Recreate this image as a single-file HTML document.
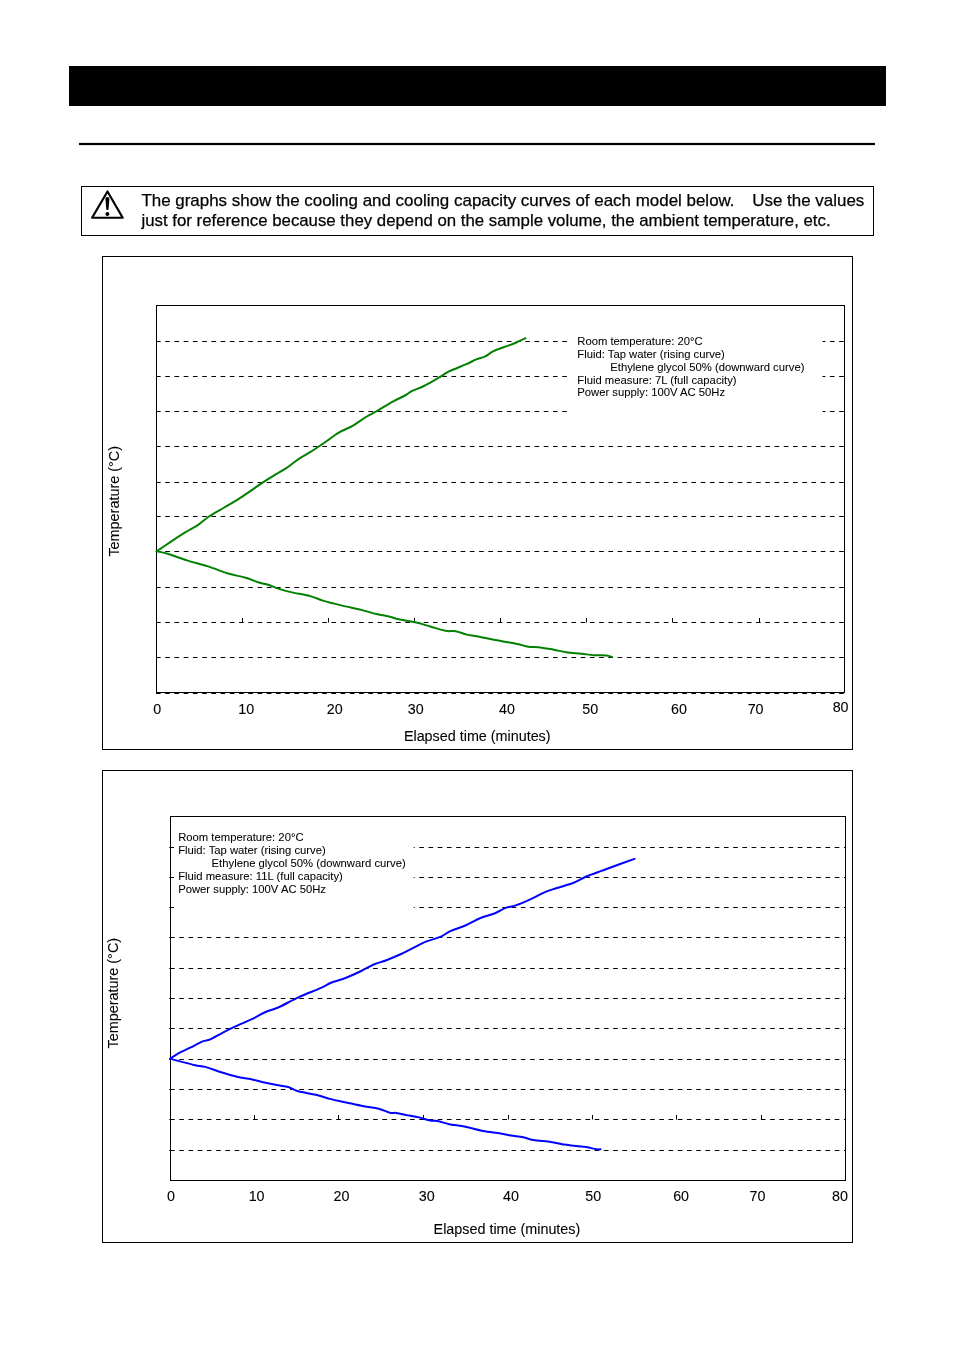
<!DOCTYPE html>
<html lang="en"><head><meta charset="utf-8"><title>Cooling curves</title>
<style>
html,body{margin:0;padding:0;background:#fff;}
body{width:954px;height:1351px;position:relative;overflow:hidden;font-family:"Liberation Sans",sans-serif;color:#000;}
svg{position:absolute;left:0;top:0;display:block;will-change:transform;opacity:.999}
text{font-family:"Liberation Sans",sans-serif;fill:#000;stroke:#000;stroke-width:.1px;}
.n,.n2{stroke-width:.25px}
.l{stroke-width:.06px}
.n{font-size:16.95px}
.n2{font-size:16.81px}
.a{font-size:14.3px}
.t{font-size:14.35px}
.y{font-size:14.41px}
.l{font-size:11.28px}
.g{stroke:#000;stroke-width:1;fill:none;stroke-dasharray:4.65 4.582;}
.b{stroke:#000;stroke-width:1;fill:none}
</style></head><body>
<svg width="954" height="1351" viewBox="0 0 954 1351">

<rect x="69" y="66" width="817" height="40" fill="#000"/>
<rect x="79" y="142.9" width="796" height="2.2" fill="#000"/>
<rect class="b" x="81.5" y="186.5" width="792" height="49"/>
<path d="M107.5 191.5 L122.7 217.75 L92.1 217.75 Z" fill="none" stroke="#000" stroke-width="2.2" stroke-linejoin="round"/>
<path d="M105.4 198.8 Q105.4 196.9 107.4 196.9 Q109.4 196.9 109.4 198.8 L108.5 209.6 Q107.4 210.6 106.3 209.6 Z" fill="#000"/>
<circle cx="107.4" cy="214.1" r="2" fill="#000"/>
<text class="n" x="141.4" y="206">The graphs show the cooling and cooling capacity curves of each model below.</text>
<text class="n" x="752.3" y="206">Use the values</text>
<text class="n2" x="141.5" y="226">just for reference because they depend on the sample volume, the ambient temperature, etc.</text>
<rect class="b" x="102.5" y="256.5" width="750" height="493"/>
<path class="g" d="M156.0 341.5H844.5"/>
<path class="g" d="M156.0 376.5H844.5"/>
<path class="g" d="M156.0 411.5H844.5"/>
<path class="g" d="M156.0 446.5H844.5"/>
<path class="g" d="M156.0 482.5H844.5"/>
<path class="g" d="M156.0 516.5H844.5"/>
<path class="g" d="M156.0 551.5H844.5"/>
<path class="g" d="M156.0 587.5H844.5"/>
<path class="g" d="M156.0 622.5H844.5"/>
<path class="g" d="M156.0 657.5H844.5"/>
<path class="b" d="M242.5 618.0V622.5"/>
<path class="b" d="M328.5 618.0V622.5"/>
<path class="b" d="M414.5 618.0V622.5"/>
<path class="b" d="M500.5 618.0V622.5"/>
<path class="b" d="M586.5 618.0V622.5"/>
<path class="b" d="M672.5 618.0V622.5"/>
<path class="b" d="M759.5 618.0V622.5"/>
<rect x="570" y="330" width="252.5" height="95" fill="#fff"/>
<rect class="b" x="156.5" y="305.5" width="688.0" height="387.0"/>
<path d="M156.6 551.3C159.0 549.7 166.2 544.8 171.0 541.6C175.8 538.4 181.1 535.0 185.6 532.2C190.1 529.4 194.2 527.5 198.2 524.8C202.2 522.1 205.5 518.8 209.7 516.0C213.9 513.2 219.0 510.6 223.4 508.0C227.8 505.4 231.8 503.3 236.0 500.7C240.2 498.1 244.1 495.3 248.5 492.3C252.9 489.3 258.0 485.7 262.2 482.9C266.4 480.1 269.7 478.1 273.7 475.6C277.7 473.2 282.1 471.0 286.3 468.2C290.5 465.4 294.6 461.6 298.8 458.8C303.0 456.0 307.2 454.0 311.4 451.4C315.6 448.8 319.4 446.1 324.0 443.0C328.6 439.9 333.9 435.5 338.7 432.6C343.5 429.8 348.2 428.4 352.6 425.9C357.0 423.4 361.0 420.1 365.2 417.5C369.4 414.9 373.2 413.2 377.7 410.6C382.2 408.0 387.8 404.3 392.4 401.8C396.9 399.3 401.9 397.2 405.0 395.5C408.1 393.8 408.2 392.9 411.3 391.3C414.4 389.7 419.0 388.4 423.9 386.0C428.8 383.6 436.4 379.0 440.6 376.6C444.8 374.2 444.8 373.4 449.0 371.4C453.2 369.4 461.2 366.4 465.8 364.4C470.4 362.4 473.2 360.7 476.3 359.4C479.4 358.1 481.9 358.0 484.7 356.7C487.5 355.4 489.9 353.0 493.0 351.4C496.1 349.8 500.0 348.6 503.5 347.3C507.0 346.0 510.3 345.0 514.0 343.5C517.7 342.0 523.6 339.1 525.5 338.2" fill="none" stroke="#008000" stroke-width="2" stroke-linejoin="round" stroke-linecap="round"/>
<path d="M156.6 551.3C158.4 551.7 162.4 552.2 167.6 553.8C172.8 555.3 181.0 558.5 187.7 560.6C194.4 562.7 201.2 564.2 207.9 566.4C214.6 568.5 221.7 571.6 228.0 573.5C234.3 575.4 240.6 576.2 245.6 577.7C250.6 579.2 254.4 581.1 258.2 582.3C262.0 583.5 264.8 583.8 268.2 584.8C271.6 585.8 274.5 587.4 278.3 588.6C282.1 589.8 285.4 590.8 290.9 592.1C296.3 593.4 305.6 594.9 311.0 596.4C316.4 597.9 318.6 599.4 323.6 600.9C328.6 602.4 334.9 603.9 341.2 605.4C347.5 606.9 355.4 608.5 361.3 609.9C367.2 611.3 371.6 612.9 376.4 614.0C381.2 615.1 386.5 615.9 390.0 616.7C393.5 617.5 393.4 618.1 397.6 619.0C401.8 619.9 409.8 621.0 415.2 622.3C420.6 623.5 425.3 625.1 430.3 626.5C435.3 627.9 441.2 630.0 445.4 630.8C449.6 631.6 451.9 630.7 455.5 631.3C459.1 631.9 463.0 633.7 466.8 634.6C470.6 635.5 472.4 635.5 478.1 636.6C483.8 637.7 494.3 639.9 500.8 641.1C507.3 642.3 512.5 643.0 517.1 643.9C521.7 644.8 524.8 646.2 528.4 646.7C532.0 647.2 534.3 646.7 538.5 647.2C542.7 647.7 549.0 648.9 553.6 649.7C558.2 650.5 561.6 651.5 566.2 652.2C570.8 652.9 576.7 653.2 581.3 653.7C585.9 654.2 589.6 654.9 593.8 655.2C598.0 655.5 603.4 655.2 606.4 655.5C609.4 655.8 611.1 656.8 612.0 657.0" fill="none" stroke="#008000" stroke-width="2" stroke-linejoin="round" stroke-linecap="round"/>
<text class="l" x="577.3" y="345.1">Room temperature: 20°C</text>
<text class="l" x="577.3" y="357.8">Fluid: Tap water (rising curve)</text>
<text class="l" x="610.3" y="371.2">Ethylene glycol 50% (downward curve)</text>
<text class="l" x="577.3" y="383.6">Fluid measure: 7L (full capacity)</text>
<text class="l" x="577.3" y="396.0">Power supply: 100V AC 50Hz</text>
<text class="a" x="157.3" y="714.2" text-anchor="middle">0</text>
<text class="a" x="246.2" y="714.2" text-anchor="middle">10</text>
<text class="a" x="334.7" y="714.2" text-anchor="middle">20</text>
<text class="a" x="415.8" y="714.2" text-anchor="middle">30</text>
<text class="a" x="507" y="714.2" text-anchor="middle">40</text>
<text class="a" x="590.3" y="714.2" text-anchor="middle">50</text>
<text class="a" x="678.9" y="714.2" text-anchor="middle">60</text>
<text class="a" x="755.6" y="714.2" text-anchor="middle">70</text>
<text class="a" x="840.6" y="711.7" text-anchor="middle">80</text>
<text class="t" x="403.9" y="741">Elapsed time (minutes)</text>
<text class="y" transform="translate(119.1 556.6) rotate(-90) scale(1 1.08)">Temperature (°C)</text>
<rect class="b" x="102.5" y="770.5" width="750" height="472"/>
<path class="g" d="M170.0 847.5H845.5"/>
<path class="b" d="M169.3 847.5H170.5"/>
<path class="g" d="M170.0 877.5H845.5"/>
<path class="b" d="M169.3 877.5H170.5"/>
<path class="g" d="M170.0 907.5H845.5"/>
<path class="b" d="M169.3 907.5H170.5"/>
<path class="g" d="M170.0 937.5H845.5"/>
<path class="b" d="M169.3 937.5H170.5"/>
<path class="g" d="M170.0 968.5H845.5"/>
<path class="b" d="M169.3 968.5H170.5"/>
<path class="g" d="M170.0 998.5H845.5"/>
<path class="b" d="M169.3 998.5H170.5"/>
<path class="g" d="M170.0 1028.5H845.5"/>
<path class="b" d="M169.3 1028.5H170.5"/>
<path class="g" d="M170.0 1059.5H845.5"/>
<path class="b" d="M169.3 1059.5H170.5"/>
<path class="g" d="M170.0 1089.5H845.5"/>
<path class="b" d="M169.3 1089.5H170.5"/>
<path class="g" d="M170.0 1119.5H845.5"/>
<path class="b" d="M169.3 1119.5H170.5"/>
<path class="g" d="M170.0 1150.5H845.5"/>
<path class="b" d="M169.3 1150.5H170.5"/>
<path class="b" d="M254.5 1115.0V1119.5"/>
<path class="b" d="M338.5 1115.0V1119.5"/>
<path class="b" d="M423.5 1115.0V1119.5"/>
<path class="b" d="M508.5 1115.0V1119.5"/>
<path class="b" d="M592.5 1115.0V1119.5"/>
<path class="b" d="M676.5 1115.0V1119.5"/>
<path class="b" d="M761.5 1115.0V1119.5"/>
<rect x="174" y="826" width="239.7" height="95" fill="#fff"/>
<rect class="b" x="170.5" y="816.5" width="675.0" height="364.0"/>
<path d="M170.3 1058.6C171.5 1057.8 174.3 1055.6 177.6 1053.8C180.9 1052.0 186.0 1049.8 190.2 1047.7C194.4 1045.6 199.3 1042.8 202.7 1041.4C206.0 1040.0 206.9 1040.9 210.3 1039.4C213.7 1037.9 218.7 1034.8 222.9 1032.6C227.1 1030.4 230.4 1028.7 235.4 1026.4C240.4 1024.1 248.0 1021.0 253.0 1018.6C258.0 1016.2 261.4 1013.9 265.6 1012.0C269.8 1010.1 272.8 1009.9 278.2 1007.5C283.6 1005.1 291.2 1000.7 298.3 997.4C305.4 994.1 315.6 990.3 321.0 987.9C326.4 985.5 326.8 984.5 331.0 982.8C335.2 981.1 341.1 979.8 346.1 977.8C351.1 975.8 356.6 973.2 361.2 971.0C365.8 968.8 369.6 966.3 373.8 964.5C378.0 962.7 382.0 961.9 386.4 960.2C390.8 958.5 395.6 956.5 400.0 954.5C404.4 952.5 408.4 950.3 412.6 948.2C416.8 946.1 420.6 943.8 425.2 941.9C429.8 940.0 436.1 938.7 440.3 936.9C444.5 935.1 446.1 933.0 450.3 931.1C454.5 929.2 460.4 927.7 465.4 925.5C470.4 923.3 475.5 920.1 480.5 918.0C485.5 915.9 491.4 914.7 495.6 913.0C499.8 911.3 502.3 909.2 505.7 907.9C509.1 906.6 511.5 906.9 515.7 905.4C519.9 903.9 526.2 901.2 530.8 899.1C535.4 897.0 539.2 894.6 543.4 892.8C547.6 891.0 551.0 890.0 556.0 888.3C561.0 886.6 568.6 884.8 573.6 882.8C578.6 880.8 581.6 878.5 586.2 876.5C590.8 874.5 597.1 872.4 601.3 870.9C605.5 869.4 605.8 869.2 611.3 867.2C616.8 865.2 630.6 860.3 634.5 858.9" fill="none" stroke="#0000ff" stroke-width="2" stroke-linejoin="round" stroke-linecap="round"/>
<path d="M170.3 1058.6C171.9 1059.1 175.9 1060.3 180.1 1061.4C184.2 1062.5 191.0 1064.3 195.2 1065.2C199.4 1066.1 201.1 1065.8 205.3 1066.9C209.5 1068.0 214.9 1070.3 220.3 1072.0C225.8 1073.7 232.6 1075.7 238.0 1077.0C243.4 1078.3 248.4 1078.7 253.0 1079.7C257.6 1080.7 261.4 1081.9 265.6 1082.8C269.8 1083.7 274.4 1084.6 278.2 1085.3C282.0 1086.0 284.9 1086.0 288.3 1087.0C291.7 1088.0 293.7 1090.0 298.3 1091.3C302.9 1092.6 310.4 1093.5 315.9 1094.8C321.3 1096.1 326.0 1097.8 331.0 1099.1C336.0 1100.4 340.7 1101.2 346.1 1102.4C351.6 1103.6 358.2 1105.2 363.7 1106.2C369.1 1107.2 374.4 1107.6 378.8 1108.7C383.2 1109.8 387.3 1112.2 390.2 1112.9C393.1 1113.6 393.5 1112.5 396.4 1112.9C399.3 1113.3 403.8 1114.5 407.5 1115.3C411.2 1116.0 415.1 1116.5 418.9 1117.4C422.7 1118.3 427.1 1120.0 430.2 1120.6C433.3 1121.2 434.5 1120.5 437.7 1121.1C440.9 1121.7 444.5 1123.3 449.1 1124.2C453.7 1125.1 459.8 1125.6 465.4 1126.7C471.0 1127.8 477.1 1129.8 483.0 1130.9C488.9 1132.0 496.0 1132.7 500.6 1133.5C505.2 1134.3 506.9 1134.9 510.7 1135.5C514.5 1136.1 519.5 1136.5 523.3 1137.2C527.1 1138.0 528.7 1139.2 533.3 1140.0C537.9 1140.8 546.3 1141.3 550.9 1142.0C555.5 1142.7 556.8 1143.3 561.0 1144.0C565.2 1144.7 571.9 1145.5 576.1 1146.0C580.3 1146.5 582.9 1146.5 586.2 1147.0C589.6 1147.5 593.8 1148.9 596.2 1149.3C598.6 1149.7 599.8 1149.3 600.5 1149.3" fill="none" stroke="#0000ff" stroke-width="2" stroke-linejoin="round" stroke-linecap="round"/>
<text class="l" x="178.2" y="840.8">Room temperature: 20°C</text>
<text class="l" x="178.2" y="854.1">Fluid: Tap water (rising curve)</text>
<text class="l" x="211.6" y="866.9">Ethylene glycol 50% (downward curve)</text>
<text class="l" x="178.2" y="879.9">Fluid measure: 11L (full capacity)</text>
<text class="l" x="178.2" y="892.5">Power supply: 100V AC 50Hz</text>
<text class="a" x="171.1" y="1201.3" text-anchor="middle">0</text>
<text class="a" x="256.6" y="1201.3" text-anchor="middle">10</text>
<text class="a" x="341.5" y="1201.3" text-anchor="middle">20</text>
<text class="a" x="426.8" y="1201.3" text-anchor="middle">30</text>
<text class="a" x="511" y="1201.3" text-anchor="middle">40</text>
<text class="a" x="593.2" y="1201.3" text-anchor="middle">50</text>
<text class="a" x="681.1" y="1201.3" text-anchor="middle">60</text>
<text class="a" x="757.5" y="1201.3" text-anchor="middle">70</text>
<text class="a" x="840" y="1200.8" text-anchor="middle">80</text>
<text class="t" x="433.6" y="1234.2">Elapsed time (minutes)</text>
<text class="y" transform="translate(118.1 1048.5) rotate(-90) scale(1 1.08)">Temperature (°C)</text>
<path class="g" d="M155.95 693.5H844.5"/>
</svg></body></html>
